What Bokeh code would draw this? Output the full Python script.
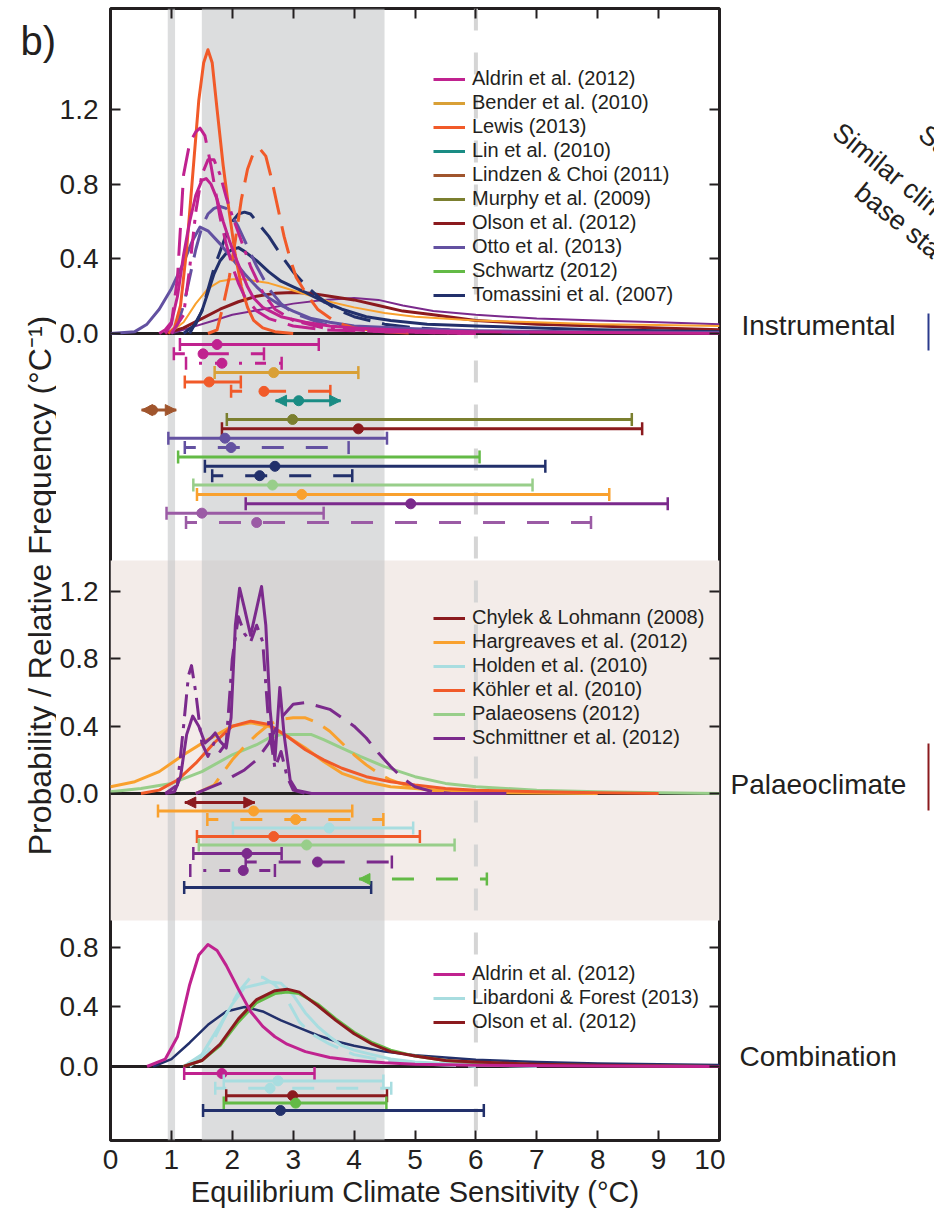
import numpy as np
from bokeh.plotting import figure
from bokeh.layouts import row
from bokeh.models import (Range1d, LinearAxis, FixedTicker, BoxAnnotation, Span,
                          Legend, LegendItem, Arrow, NormalHead)
from bokeh.core.properties import value
from bokeh.embed import file_html
from bokeh.resources import INLINE

FONT = "Liberation Sans"
INK = "#231F20"

# ---------------- colours ----------------
MAGENTA = "#C0228F"; GOLD = "#D9A036"; LEWIS = "#F15A29"; TEAL = "#1A8C84"
BROWN = "#A0552D"; OLIVE = "#7B7F2F"; DRED = "#8B1A1E"; OTTO = "#6351A1"
GREEN = "#63BA46"; NAVY = "#22306B"; LGREEN = "#98CE8A"; ORANGE = "#F9A12E"
PURPLE = "#7B2A8C"; LPURPLE = "#9B5BA5"; CYAN = "#A8DDE0"

# ================= DATA =================
x_ticks = [0, 1, 2, 3, 4, 5, 6, 7, 8, 9, 10]
top_ticks = [0.0, 0.4, 0.8, 1.2]
mid_ticks = [0.0, 0.4, 0.8, 1.2]
bot_ticks = [0.0, 0.4, 0.8]

# --- Instrumental PDFs ---
aldrin_x = [0.8, 0.9, 1.0, 1.1, 1.2, 1.3, 1.4, 1.5, 1.57, 1.65, 1.75, 1.85, 1.95, 2.05, 2.15, 2.25, 2.35, 2.5, 2.8, 3.2, 3.6, 4.0, 5.0, 6.0, 8.0, 10.0]
aldrin_y = [0.0, 0.02, 0.06, 0.2, 0.42, 0.6, 0.74, 0.82, 0.83, 0.8, 0.72, 0.6, 0.5, 0.41, 0.33, 0.25, 0.19, 0.14, 0.09, 0.06, 0.04, 0.03, 0.015, 0.01, 0.005, 0.0]
aldrin_dash_x = [0.9, 1.0, 1.1, 1.2, 1.3, 1.4, 1.47, 1.55, 1.65, 1.8, 1.9, 2.0, 2.1, 2.2, 2.4, 2.6, 3.0, 3.5, 4.5, 6.0]
aldrin_dash_y = [0.0, 0.05, 0.3, 0.85, 1.02, 1.08, 1.1, 1.06, 0.9, 0.62, 0.48, 0.36, 0.27, 0.2, 0.12, 0.08, 0.04, 0.02, 0.01, 0.0]
aldrin_dd_x = [1.0, 1.2, 1.3, 1.4, 1.5, 1.6, 1.7, 1.8, 1.9, 2.0, 2.1, 2.2, 2.3, 2.5, 2.7, 3.0, 3.5, 4.5, 6.0]
aldrin_dd_y = [0.0, 0.1, 0.35, 0.65, 0.85, 0.93, 0.93, 0.85, 0.73, 0.63, 0.54, 0.45, 0.36, 0.22, 0.13, 0.07, 0.03, 0.01, 0.0]
lewis_x = [0.95, 1.05, 1.15, 1.25, 1.35, 1.45, 1.53, 1.6, 1.67, 1.75, 1.85, 1.95, 2.05, 2.15, 2.25, 2.35, 2.5, 2.7, 3.0]
lewis_y = [0.0, 0.03, 0.15, 0.45, 0.85, 1.25, 1.45, 1.52, 1.45, 1.2, 0.9, 0.65, 0.42, 0.25, 0.14, 0.07, 0.03, 0.01, 0.0]
lewis_dash_x = [1.6, 1.75, 1.85, 1.95, 2.05, 2.15, 2.25, 2.35, 2.45, 2.55, 2.65, 2.75, 2.85, 2.95, 3.05, 3.2, 3.4, 3.7, 4.0, 4.5, 5.0]
lewis_dash_y = [0.0, 0.02, 0.15, 0.3, 0.5, 0.72, 0.88, 0.97, 0.99, 0.95, 0.82, 0.67, 0.52, 0.4, 0.3, 0.22, 0.13, 0.06, 0.03, 0.01, 0.0]
otto_x = [0.0, 0.4, 0.6, 0.8, 1.0, 1.2, 1.35, 1.47, 1.6, 1.8, 2.0, 2.2, 2.4, 2.6, 2.8, 3.0, 3.3, 3.6, 4.0, 5.0, 6.0, 8.0, 10.0]
otto_y = [0.0, 0.01, 0.05, 0.13, 0.24, 0.38, 0.5, 0.57, 0.55, 0.48, 0.4, 0.32, 0.25, 0.19, 0.15, 0.12, 0.08, 0.06, 0.04, 0.025, 0.015, 0.008, 0.005]
otto_dash_x = [1.0, 1.1, 1.2, 1.3, 1.4, 1.5, 1.6, 1.7, 1.8, 1.9, 2.0, 2.1, 2.2, 2.4, 2.6, 2.8, 3.0, 3.5, 4.0, 5.0, 6.0]
otto_dash_y = [0.0, 0.05, 0.15, 0.3, 0.45, 0.57, 0.64, 0.67, 0.68, 0.67, 0.63, 0.57, 0.5, 0.36, 0.24, 0.16, 0.11, 0.05, 0.03, 0.01, 0.0]
tom_x = [1.2, 1.4, 1.5, 1.6, 1.7, 1.8, 1.9, 2.0, 2.1, 2.2, 2.4, 2.6, 2.8, 3.0, 3.2, 3.5, 3.8, 4.2, 4.6, 5.2, 6.0, 7.0, 8.0, 9.0, 10.0]
tom_y = [0.0, 0.05, 0.12, 0.22, 0.32, 0.39, 0.43, 0.45, 0.46, 0.44, 0.39, 0.33, 0.28, 0.25, 0.22, 0.17, 0.13, 0.09, 0.07, 0.05, 0.04, 0.03, 0.02, 0.015, 0.01]
tom_dash_x = [1.3, 1.5, 1.7, 1.9, 2.0, 2.1, 2.2, 2.3, 2.4, 2.6, 2.8, 3.0, 3.2, 3.4, 3.7, 4.0, 4.5, 5.0, 6.0, 7.0]
tom_dash_y = [0.0, 0.12, 0.35, 0.53, 0.6, 0.64, 0.65, 0.64, 0.6, 0.52, 0.42, 0.33, 0.26, 0.2, 0.13, 0.09, 0.05, 0.03, 0.01, 0.0]
bender_x = [1.0, 1.2, 1.4, 1.6, 1.8, 2.0, 2.2, 2.4, 2.6, 2.8, 3.0, 3.3, 3.6, 4.0, 4.5, 5.0, 6.0, 7.0, 8.0, 9.0, 10.0]
bender_y = [0.01, 0.06, 0.16, 0.24, 0.28, 0.29, 0.29, 0.28, 0.27, 0.25, 0.23, 0.2, 0.17, 0.14, 0.11, 0.09, 0.07, 0.06, 0.05, 0.045, 0.04]
olson_x = [0.9, 1.2, 1.5, 1.8, 2.1, 2.4, 2.7, 3.0, 3.3, 3.6, 4.0, 4.4, 4.8, 5.3, 6.0, 7.0, 8.0, 9.0, 10.0]
olson_y = [0.0, 0.03, 0.08, 0.13, 0.17, 0.2, 0.215, 0.22, 0.215, 0.2, 0.18, 0.15, 0.12, 0.1, 0.07, 0.05, 0.04, 0.03, 0.02]
purple_x = [1.0, 1.3, 1.7, 2.0, 2.5, 3.0, 3.5, 4.0, 4.4, 4.8, 5.3, 6.0, 7.0, 8.0, 9.0, 10.0]
purple_y = [0.0, 0.03, 0.07, 0.1, 0.13, 0.16, 0.18, 0.19, 0.18, 0.15, 0.12, 0.1, 0.08, 0.07, 0.06, 0.05]

# --- Palaeoclimate PDFs ---
harg_x = [0.0, 0.4, 0.8, 1.2, 1.6, 2.0, 2.3, 2.6, 2.9, 3.2, 3.5, 3.8, 4.2, 4.6, 5.0, 5.5, 6.5, 8.0]
harg_y = [0.04, 0.07, 0.13, 0.23, 0.32, 0.4, 0.42, 0.4, 0.34, 0.27, 0.19, 0.12, 0.07, 0.04, 0.03, 0.015, 0.005, 0.0]
harg_dash_x = [1.4, 1.7, 2.0, 2.2, 2.4, 2.6, 2.8, 3.0, 3.2, 3.4, 3.6, 3.8, 4.0, 4.2, 4.4, 4.6, 5.0, 5.5, 6.0]
harg_dash_y = [0.0, 0.05, 0.2, 0.28, 0.35, 0.41, 0.44, 0.45, 0.45, 0.42, 0.37, 0.3, 0.23, 0.17, 0.12, 0.08, 0.03, 0.01, 0.0]
kohler_x = [0.5, 0.8, 1.1, 1.4, 1.7, 2.0, 2.3, 2.6, 2.9, 3.2, 3.5, 3.8, 4.2, 4.6, 5.0, 5.5, 6.0, 7.0, 8.0, 9.0]
kohler_y = [0.0, 0.02, 0.08, 0.18, 0.3, 0.4, 0.43, 0.41, 0.34, 0.26, 0.2, 0.15, 0.1, 0.07, 0.05, 0.03, 0.02, 0.01, 0.005, 0.0]
palaeosens_x = [0.0, 0.5, 1.0, 1.5, 2.0, 2.4, 2.6, 2.8, 3.0, 3.3, 3.5, 3.8, 4.1, 4.5, 5.0, 5.5, 6.0, 7.0, 8.0, 9.0, 10.0]
palaeosens_y = [0.01, 0.03, 0.06, 0.13, 0.23, 0.29, 0.33, 0.35, 0.35, 0.35, 0.32, 0.27, 0.22, 0.16, 0.1, 0.06, 0.04, 0.02, 0.01, 0.005, 0.0]
schm_x = [0.9, 1.05, 1.15, 1.25, 1.35, 1.45, 1.55, 1.65, 1.72, 1.8, 1.9, 1.98, 2.05, 2.12, 2.2, 2.3, 2.4, 2.48, 2.55, 2.62, 2.7, 2.78, 2.85, 2.95, 3.05, 3.3, 6.5]
schm_y = [0.0, 0.01, 0.1, 0.35, 0.46, 0.4, 0.3, 0.33, 0.36, 0.31, 0.27, 0.45, 1.0, 1.22, 1.1, 0.94, 1.1, 1.23, 1.0, 0.5, 0.2, 0.63, 0.35, 0.08, 0.02, 0.0, 0.0]
schm_dash_x = [1.4, 1.6, 1.8, 2.0, 2.2, 2.4, 2.6, 2.8, 3.0, 3.2, 3.4, 3.6, 3.8, 4.0, 4.2, 4.4, 4.6, 4.8, 5.0, 5.3, 5.6]
schm_dash_y = [0.0, 0.03, 0.06, 0.1, 0.14, 0.2, 0.3, 0.45, 0.53, 0.54, 0.52, 0.5, 0.45, 0.4, 0.33, 0.24, 0.16, 0.09, 0.04, 0.01, 0.0]
schm_dd_x = [0.9, 1.1, 1.2, 1.28, 1.33, 1.4, 1.5, 1.6, 1.7, 1.8, 1.9, 2.0, 2.1, 2.2, 2.3, 2.4, 2.5, 2.6, 2.7, 2.8, 2.9, 3.0, 3.2]
schm_dd_y = [0.0, 0.05, 0.4, 0.7, 0.76, 0.6, 0.3, 0.22, 0.3, 0.25, 0.3, 0.8, 1.05, 0.95, 0.9, 1.0, 0.9, 0.4, 0.15, 0.25, 0.1, 0.02, 0.0]

# --- Combination PDFs ---
aldc_x = [0.6, 0.9, 1.1, 1.3, 1.45, 1.6, 1.75, 1.9, 2.1, 2.3, 2.5, 2.7, 2.9, 3.2, 3.6, 4.0, 4.5, 5.0, 6.0, 8.0, 10.0]
aldc_y = [0.0, 0.05, 0.2, 0.55, 0.75, 0.82, 0.78, 0.68, 0.52, 0.37, 0.27, 0.2, 0.15, 0.1, 0.06, 0.04, 0.025, 0.015, 0.008, 0.003, 0.0]
lib_x = [1.2, 1.5, 1.8, 2.0, 2.2, 2.4, 2.6, 2.8, 3.0, 3.2, 3.4, 3.6, 3.8, 4.0, 4.3, 4.6, 5.0, 6.0, 7.0]
lib_y = [0.0, 0.08, 0.28, 0.42, 0.53, 0.55, 0.57, 0.56, 0.48, 0.36, 0.27, 0.2, 0.14, 0.11, 0.08, 0.05, 0.03, 0.01, 0.0]
lib_dash_x = [1.3, 1.6, 1.9, 2.1, 2.3, 2.5, 2.7, 2.9, 3.1, 3.3, 3.6, 4.0, 4.5, 5.0, 6.0]
lib_dash_y = [0.0, 0.1, 0.35, 0.5, 0.6, 0.6, 0.55, 0.45, 0.3, 0.22, 0.15, 0.08, 0.04, 0.02, 0.0]
olc_x = [1.2, 1.5, 1.8, 2.1, 2.4, 2.7, 2.9, 3.1, 3.4, 3.7, 4.0, 4.3, 4.6, 5.0, 5.5, 6.0, 7.0, 8.0, 10.0]
olc_y = [0.0, 0.04, 0.15, 0.32, 0.45, 0.51, 0.52, 0.5, 0.41, 0.31, 0.22, 0.15, 0.1, 0.07, 0.04, 0.03, 0.015, 0.008, 0.0]
grc_y = [0.0, 0.04, 0.14, 0.3, 0.43, 0.49, 0.5, 0.49, 0.42, 0.32, 0.23, 0.16, 0.11, 0.07, 0.04, 0.025, 0.012, 0.006, 0.0]
navc_x = [0.7, 1.0, 1.3, 1.6, 1.9, 2.2, 2.5, 2.8, 3.1, 3.4, 3.7, 4.0, 4.5, 5.0, 6.0, 7.0, 8.0, 9.0, 10.0]
navc_y = [0.0, 0.05, 0.16, 0.28, 0.37, 0.4, 0.37, 0.31, 0.26, 0.21, 0.17, 0.14, 0.1, 0.075, 0.045, 0.03, 0.02, 0.015, 0.01]

NAN = float("nan")
# --- ranges (5-95%) and best estimates ---
instr_lo = [1.14, 1.04, 1.24, 1.71, 1.22, 1.98, 2.71, 0.51, 1.91, 1.83, 0.95, 1.22, 1.11, 1.55, 1.67, 1.36, 1.42, 2.22, 0.92, 1.24]
instr_hi = [3.42, 2.52, 2.81, 4.07, 2.14, 3.61, 3.78, 1.08, 8.56, 8.73, 4.54, 3.91, 6.06, 7.14, 3.97, 6.93, 8.19, 9.15, 3.50, 7.89]
instr_best = [1.75, 1.52, 1.83, 2.68, 1.62, 2.52, 3.09, 0.69, 2.99, 4.07, 1.88, 1.98, NAN, 2.70, 2.45, 2.66, 3.14, 4.93, 1.50, 2.40]
pal_lo = [1.22, 0.78, 1.59, 2.01, 1.42, 1.45, 1.36, 2.22, 1.31, 4.08, 1.21]
pal_hi = [2.37, 3.97, 4.48, 4.97, 5.08, 5.65, 2.81, 4.62, 2.70, 6.18, 4.28]
pal_best = [NAN, 2.35, 3.04, 3.59, 2.68, 3.22, 2.24, 3.40, 2.18, NAN, NAN]
comb_lo = [1.21, 1.86, 1.72, 1.90, 1.86, 1.52]
comb_hi = [3.35, 4.48, 4.61, 4.54, 4.53, 6.13]
comb_best = [1.83, 2.75, 2.62, 2.99, 3.04, 2.79]

instr_names = ["Aldrin et al. (2012)", "Bender et al. (2010)", "Lewis (2013)", "Lin et al. (2010)",
               "Lindzen & Choi (2011)", "Murphy et al. (2009)", "Olson et al. (2012)",
               "Otto et al. (2013)", "Schwartz (2012)", "Tomassini et al. (2007)"]
pal_names = ["Chylek & Lohmann (2008)", "Hargreaves et al. (2012)", "Holden et al. (2010)",
             "Köhler et al. (2010)", "Palaeosens (2012)", "Schmittner et al. (2012)"]
comb_names = ["Aldrin et al. (2012)", "Libardoni & Forest (2013)", "Olson et al. (2012)"]
group_names = ["Instrumental", "Palaeoclimate", "Combination"]
panel_letter = "b)"
y_title = "Probability / Relative Frequency (°C⁻¹)"
x_title = "Equilibrium Climate Sensitivity (°C)"
side_titles = ["Same", "Similar climate", "base state"]

# ================= STYLES / LAYOUT =================
DASH = "28 12"
DASHDOT = "22 8 4 8"
BDASH = "22 22"
BDD = "11 13 3 13"

instr_style = [(MAGENTA, "solid", "caps"), (MAGENTA, BDASH, "caps"), (MAGENTA, BDD, "caps"),
               (GOLD, "solid", "caps"), (LEWIS, "solid", "caps"), (LEWIS, BDASH, "caps"),
               (TEAL, "solid", "both"), (BROWN, "solid", "both"), (OLIVE, "solid", "caps"),
               (DRED, "solid", "caps"), (OTTO, "solid", "caps"), (OTTO, BDASH, "caps"),
               (GREEN, "solid", "caps"), (NAVY, "solid", "caps"), (NAVY, BDASH, "caps"),
               (LGREEN, "solid", "caps"), (ORANGE, "solid", "caps"), (PURPLE, "solid", "caps"),
               (LPURPLE, "solid", "caps"), (LPURPLE, BDASH, "caps")]
pal_style = [(DRED, "solid", "both"), (ORANGE, "solid", "caps"), (ORANGE, BDASH, "caps"),
             (CYAN, "solid", "caps"), (LEWIS, "solid", "caps"), (LGREEN, "solid", "caps"),
             (PURPLE, "solid", "caps"), (PURPLE, BDASH, "caps"), (PURPLE, BDD, "caps"),
             (GREEN, BDASH, "left"), (NAVY, "solid", "caps")]
comb_style = [(MAGENTA, "solid", "caps"), (CYAN, "solid", "caps"), (CYAN, BDASH, "caps"),
              (DRED, "solid", "caps"), (GREEN, "solid", "caps"), (NAVY, "solid", "caps")]

WIN_W, WIN_H = 934, 1217
LEFT_W = 56             # strip holding the panel letter and the y title
FRAME_L, FRAME_R = 108, 719
FRAME_TOP, FRAME_BOTTOM = 8, 1140
MAIN_R = 725            # right edge of the main figure
H = FRAME_BOTTOM - FRAME_TOP
# panel: (pixel row of zero line, pixels per unit, first row offset px, row step px)
PANELS = {"top": (333, 186.7, 11, 9.37), "mid": (793, 168.3, 9, 8.5), "bot": (1066, 148.75, 7, 7.4)}


def panel_range(name):
    zero_px, scale = PANELS[name][0], PANELS[name][1]
    up = FRAME_BOTTOM - zero_px
    return Range1d(-up / scale, (H - up) / scale)


p = figure(width=MAIN_R - LEFT_W, height=WIN_H, x_range=Range1d(0, 10), y_range=Range1d(0, H),
           output_backend="svg", toolbar_location=None,
           min_border_left=FRAME_L - LEFT_W, min_border_right=MAIN_R - FRAME_R,
           min_border_top=FRAME_TOP, min_border_bottom=WIN_H - FRAME_BOTTOM)
p.extra_y_ranges = {k: panel_range(k) for k in PANELS}
p.xgrid.visible = False
p.ygrid.visible = False
p.outline_line_color = INK
p.outline_line_width = 3
p.background_fill_color = "white"
p.border_fill_color = "white"

# y ticks in main (pixel) coordinates
ytick_pos, ytick_lab = [], {}
for name, ticks in (("top", top_ticks), ("mid", mid_ticks), ("bot", bot_ticks)):
    zero_px, scale = PANELS[name][0], PANELS[name][1]
    for v in ticks:
        pos = int(round(FRAME_BOTTOM - zero_px + v * scale))
        ytick_pos.append(pos)
        ytick_lab[pos] = f"{v:.1f}"


def style_axis(ax):
    ax.major_tick_in = 10
    ax.major_tick_out = 0
    ax.minor_tick_line_color = None
    ax.axis_line_color = None
    ax.major_tick_line_color = INK
    ax.major_tick_line_width = 2
    ax.major_label_text_font = FONT
    ax.major_label_text_color = INK
    ax.axis_label_text_font = FONT
    ax.axis_label_text_font_style = "normal"
    ax.axis_label_text_color = INK


def ticks_only(ax):
    style_axis(ax)
    ax.major_label_text_font_size = "1px"
    ax.major_label_text_color = None
    ax.major_label_standoff = 0


xa = p.xaxis[0]
style_axis(xa)
xa.ticker = FixedTicker(ticks=x_ticks)
xa.major_label_text_font_size = "28px"
xa.major_label_standoff = 9
xa.axis_label = x_title
xa.axis_label_text_font_size = "29px"
xa.axis_label_standoff = 4

ya = p.yaxis[0]
style_axis(ya)
ya.ticker = FixedTicker(ticks=ytick_pos)
ya.major_label_overrides = ytick_lab
ya.major_label_text_font_size = "28px"
ya.major_label_standoff = 12

ra = LinearAxis(ticker=FixedTicker(ticks=ytick_pos))
ticks_only(ra)
p.add_layout(ra, "right")
ta = LinearAxis(ticker=FixedTicker(ticks=x_ticks[1:-1]))
ticks_only(ta)
p.add_layout(ta, "above")

# ---------- backgrounds ----------
p.add_layout(BoxAnnotation(bottom=FRAME_BOTTOM - 920, top=FRAME_BOTTOM - 560, fill_color="#F3ECE9",
                           fill_alpha=1, line_alpha=0, level="underlay"))
p.add_layout(BoxAnnotation(left=0.94, right=1.06, fill_color="#C2C4C7", fill_alpha=0.58,
                           line_alpha=0, level="underlay"))
p.add_layout(BoxAnnotation(left=1.5, right=4.5, fill_color="#C2C4C7", fill_alpha=0.58,
                           line_alpha=0, level="underlay"))
p.add_layout(Span(location=6, dimension="height", line_color="#D5D5D5", line_width=4,
                  line_dash="22 22", level="underlay"))
for name in PANELS:
    p.add_layout(Span(location=0, dimension="width", y_range_name=name, line_color=INK,
                      line_width=3, level="underlay"))


def curve(name, x, y, color, width=3, dash="solid"):
    return p.line(x, y, y_range_name=name, line_color=color, line_width=width,
                  line_dash=dash, line_join="round")


# ---------- curves ----------
r_purple = curve("top", purple_x, purple_y, PURPLE, 2)
r_olson = curve("top", olson_x, olson_y, DRED, 3)
r_bender = curve("top", bender_x, bender_y, ORANGE, 2)
r_tom = curve("top", tom_x, tom_y, NAVY, 3)
curve("top", tom_dash_x, tom_dash_y, NAVY, 3, DASH)
r_otto = curve("top", otto_x, otto_y, OTTO, 3)
curve("top", otto_dash_x, otto_dash_y, OTTO, 3, DASH)
curve("top", lewis_dash_x, lewis_dash_y, LEWIS, 3, DASH)
r_lewis = curve("top", lewis_x, lewis_y, LEWIS, 3)
curve("top", aldrin_dash_x, aldrin_dash_y, MAGENTA, 3, DASH)
curve("top", aldrin_dd_x, aldrin_dd_y, MAGENTA, 3, DASHDOT)
r_aldrin = curve("top", aldrin_x, aldrin_y, MAGENTA, 3)

r_pal = curve("mid", palaeosens_x, palaeosens_y, LGREEN, 3)
r_harg = curve("mid", harg_x, harg_y, ORANGE, 3)
curve("mid", harg_dash_x, harg_dash_y, ORANGE, 3, DASH)
r_kohl = curve("mid", kohler_x, kohler_y, LEWIS, 3)
curve("mid", schm_dash_x, schm_dash_y, PURPLE, 3, DASH)
curve("mid", schm_dd_x, schm_dd_y, PURPLE, 3, DASHDOT)
r_schm = curve("mid", schm_x, schm_y, PURPLE, 3)

r_navc = curve("bot", navc_x, navc_y, NAVY, 2.5)
curve("bot", lib_dash_x, lib_dash_y, CYAN, 3, DASH)
r_lib = curve("bot", lib_x, lib_y, CYAN, 3)
r_grc = curve("bot", olc_x, grc_y, GREEN, 3)
r_olc = curve("bot", olc_x, olc_y, DRED, 3)
r_aldc = curve("bot", aldc_x, aldc_y, MAGENTA, 3)


# ---------- ranges ----------
def rows(name, lo, hi, best, styles):
    zero_px, scale, first, step = PANELS[name]
    out = []
    for k in range(len(lo)):
        color, dash, ends = styles[k]
        y = -(first + step * k) / scale
        seg = p.segment(x0=[lo[k]], y0=[y], x1=[hi[k]], y1=[y], y_range_name=name,
                        line_color=color, line_width=3, line_dash=dash,
                        line_dash_offset=11 if dash != "solid" else 0)
        out.append(seg)
        caps = []
        if ends == "caps":
            caps = [lo[k], hi[k]]
        elif ends == "left":
            caps = [hi[k]]
        if caps:
            p.scatter(x=caps, y=[y] * len(caps), y_range_name=name, marker="dash", size=13,
                      angle=np.pi / 2, line_color=color, line_width=2.5)
        if ends in ("both", "left"):
            head = dict(size=11, fill_color=color, line_color=color, line_width=1)
            p.add_layout(Arrow(start=NormalHead(**head),
                               end=NormalHead(**head) if ends == "both" else None,
                               x_start=lo[k], y_start=y, x_end=hi[k], y_end=y,
                               y_range_name=name, line_alpha=0))
        if not np.isnan(best[k]):
            p.scatter(x=[best[k]], y=[y], y_range_name=name, marker="circle", size=10,
                      fill_color=color, line_color=color)
    return out


seg_i = rows("top", instr_lo, instr_hi, instr_best, instr_style)
seg_p = rows("mid", pal_lo, pal_hi, pal_best, pal_style)
seg_c = rows("bot", comb_lo, comb_hi, comb_best, comb_style)


# ---------- legends ----------
def legend(names, renderers, loc):
    lg = Legend(items=[LegendItem(label=n, renderers=[r]) for n, r in zip(names, renderers)],
                location=loc, orientation="vertical", padding=0, margin=0, spacing=1,
                glyph_width=32, glyph_height=20, label_height=20, label_standoff=7,
                label_text_font=FONT, label_text_font_size="20px", label_text_color=INK,
                background_fill_alpha=0, border_line_alpha=0)
    p.add_layout(lg)


legend(instr_names, [r_aldrin, seg_i[3], r_lewis, seg_i[6], seg_i[7], seg_i[8], r_olson,
                     r_otto, seg_i[12], r_tom], (323, 834))
legend(pal_names, [seg_p[0], r_harg, seg_p[3], r_kohl, r_pal, r_schm], (323, 391))
legend(comb_names, [r_aldc, r_lib, r_olc], (323, 107))


# ---------- side strips (texts outside the plot box) ----------
# In a row, Bokeh lines the strips' frames up with the main frame (rows 8..1140),
# so they share the main figure's vertical coordinates.
def strip(x0, x1):
    s = figure(width=x1 - x0, height=WIN_H, x_range=Range1d(x0, x1),
               y_range=Range1d(0, H),
               output_backend="svg", toolbar_location=None,
               x_axis_location=None, y_axis_location=None,
               min_border_left=0, min_border_right=0,
               min_border_top=FRAME_TOP, min_border_bottom=WIN_H - FRAME_BOTTOM)
    s.xgrid.visible = False
    s.ygrid.visible = False
    s.outline_line_color = None
    s.background_fill_color = "white"
    s.border_fill_color = "white"
    return s


def txt(fig, x, y_px, text, size, align="left", baseline="alphabetic", angle=0.0):
    fig.text(x=[x], y=[FRAME_BOTTOM - y_px], text=[text], text_font=value(FONT),
             text_font_size=value(size), text_color=INK, text_align=align,
             text_baseline=baseline, angle=angle)


left = strip(0, LEFT_W)
txt(left, 20, 40, panel_letter, "40px")
txt(left, 39, 585, y_title, "32px", align="center", baseline="middle", angle=np.pi / 2)

right = strip(MAIN_R, WIN_W)
txt(right, 741, 325, group_names[0], "28px")
txt(right, 730, 784, group_names[1], "28px")
txt(right, 739, 1056, group_names[2], "28px")
txt(right, 922, 130, side_titles[0], "27px", baseline="middle", angle=-0.68)
txt(right, 836, 128, side_titles[1], "27px", baseline="middle", angle=-0.68)
txt(right, 858, 188, side_titles[2], "27px", baseline="middle", angle=-0.68)
right.segment(x0=[928], y0=[FRAME_BOTTOM - 313], x1=[928], y1=[FRAME_BOTTOM - 350],
              line_color="#2B3A8C", line_width=2)
right.segment(x0=[928], y0=[FRAME_BOTTOM - 743], x1=[928], y1=[FRAME_BOTTOM - 810],
              line_color=DRED, line_width=2)

layout = row(left, p, right, spacing=0)
open("out.html", "w").write(file_html(layout, INLINE))
